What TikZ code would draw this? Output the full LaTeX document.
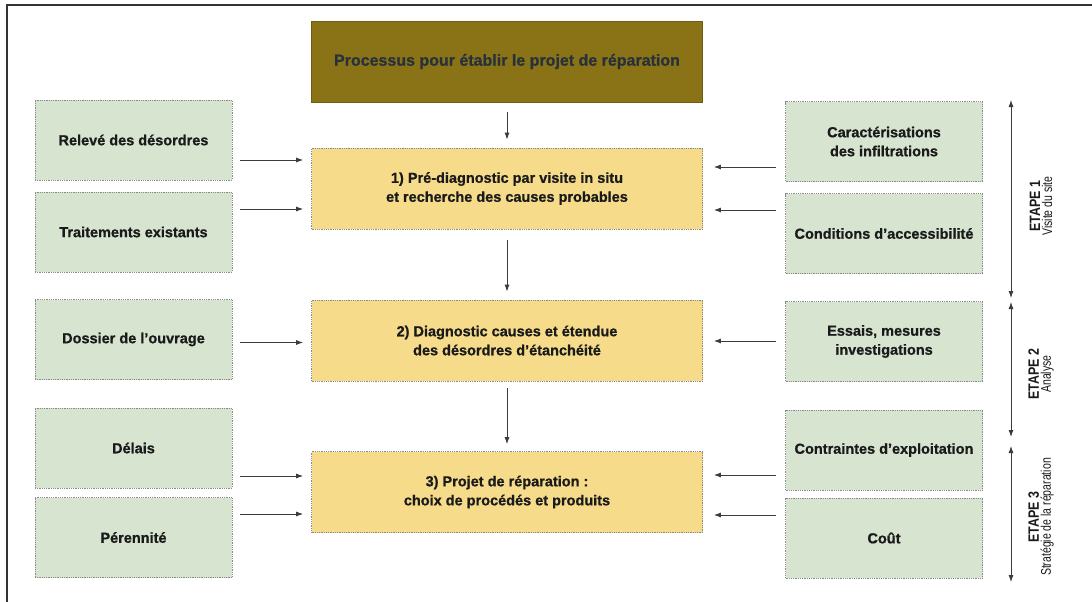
\documentclass[tikz,border=0pt]{standalone}
\usepackage{fontspec}
\setmainfont{Liberation Sans}[BoldFeatures={FakeBold=0.8}]
\newfontfamily\condbold[FakeStretch=0.83]{Liberation Sans Bold}
\newfontfamily\condreg[FakeStretch=0.75]{Liberation Sans}
\usetikzlibrary{arrows.meta,calc}
\definecolor{boxgreen}{HTML}{D6E4D0}
\definecolor{boxyellow}{HTML}{F6DC8A}
\definecolor{olive}{HTML}{8A7316}
\definecolor{titletext}{HTML}{27313B}
\definecolor{txt}{HTML}{1A1A1A}
\definecolor{dotgrey}{HTML}{8A8A8A}
\tikzset{
  base/.style={draw=dotgrey, densely dotted, line width=0.8pt, align=center,
    text=txt, font=\fontsize{14.5}{19}\selectfont\bfseries},
  sidebox/.style={base, fill=boxgreen, minimum width=197pt, minimum height=80pt},
  stepbox/.style={base, fill=boxyellow, minimum width=391pt, minimum height=81pt},
  titlebox/.style={draw=olive!80!black, fill=olive, minimum width=391pt, minimum height=81pt,
    text=titletext, font=\fontsize{16}{19}\selectfont\bfseries},
  arr/.style={draw=txt!85, line width=0.8pt, -{Latex[length=7pt,width=5pt]}},
  span/.style={draw=txt!85, line width=0.8pt, {Latex[length=7pt,width=5pt]}-{Latex[length=7pt,width=5pt]}},
  etape/.style={rotate=90, align=center, text=txt, inner sep=0pt}
}
\newcommand{\etapehead}[1]{{\condbold\fontsize{15}{15}\selectfont #1}}
\newcommand{\etapesub}[1]{{\condreg\fontsize{14}{14}\selectfont #1}}
\begin{document}
\begin{tikzpicture}[x=1pt,y=-1pt]
\useasboundingbox (0,0) rectangle (1092,602);
% frame
\draw[line width=1.4pt, draw=black!80] (7,602) -- (7,5) -- (1092,5);

% central column
\node[titlebox] (t) at (507,61.5) {Processus pour établir le projet de réparation};
\node[stepbox] (b1) at (507,188.5) {1) Pré-diagnostic par visite in situ\\et recherche des causes probables};
\node[stepbox] (b2) at (507,340.5) {2) Diagnostic causes et étendue\\des désordres d’étanchéité};
\node[stepbox] (b3) at (507,492) {3) Projet de réparation :\\choix de procédés et produits};

% left column
\node[sidebox] (rel) at (133.5,140) {Relevé des désordres};
\node[sidebox] (trt) at (133.5,232) {Traitements existants};
\node[sidebox] (dos) at (133.5,339.5) {Dossier de l’ouvrage};
\node[sidebox] (del) at (133.5,448) {Délais};
\node[sidebox] (per) at (133.5,537.5) {Pérennité};

% right column
\node[sidebox] (car) at (884,141.5) {Caractérisations\\des infiltrations};
\node[sidebox] (cond) at (884,233.5) {Conditions d’accessibilité};
\node[sidebox] (ess) at (884,341.5) {Essais, mesures\\investigations};
\node[sidebox] (ctr) at (884,450) {Contraintes d’exploitation};
\node[sidebox] (cout) at (884,538) {Coût};

% vertical arrows
\draw[arr, shorten <=10pt, shorten >=8pt] (t.south) -- (b1.north);
\draw[arr, shorten <=11pt, shorten >=8pt] (b1.south) -- (b2.north);
\draw[arr, shorten <=7pt, shorten >=7pt] (b2.south) -- (b3.north);

% left arrows
\draw[arr] ([xshift=8pt,yshift=-20pt]rel.east) -- ([xshift=-8pt,yshift=28.5pt]b1.west);
\draw[arr] ([xshift=8pt,yshift=23pt]trt.east) -- ([xshift=-8pt,yshift=-20.5pt]b1.west);
\draw[arr] ([xshift=8pt,yshift=-3pt]dos.east) -- ([xshift=-8pt,yshift=-2pt]b2.west);
\draw[arr] ([xshift=8pt,yshift=-28pt]del.east) -- ([xshift=-8pt,yshift=16pt]b3.west);
\draw[arr] ([xshift=8pt,yshift=23.5pt]per.east) -- ([xshift=-8pt,yshift=-22pt]b3.west);

% right arrows
\draw[arr] ([xshift=-9pt,yshift=-25.5pt]car.west) -- ([xshift=11pt,yshift=21.5pt]b1.east);
\draw[arr] ([xshift=-9pt,yshift=23.5pt]cond.west) -- ([xshift=11pt,yshift=-21.5pt]b1.east);
\draw[arr] ([xshift=-9pt,yshift=0.5pt]ess.west) -- ([xshift=11pt,yshift=-0.5pt]b2.east);
\draw[arr] ([xshift=-9pt,yshift=-25pt]ctr.west) -- ([xshift=11pt,yshift=17pt]b3.east);
\draw[arr] ([xshift=-9pt,yshift=23pt]cout.west) -- ([xshift=11pt,yshift=-23pt]b3.east);

% stage spans
\coordinate (e1t) at (1011,100);
\coordinate (e1b) at (1011,298);
\coordinate (e2t) at (1011,302);
\coordinate (e2b) at (1011,437);
\coordinate (e3t) at (1011,446);
\coordinate (e3b) at (1011,582);
\draw[span] (e1t) -- (e1b);
\draw[span] (e2t) -- (e2b);
\draw[span] (e3t) -- (e3b);

\node[etape] (l1) at (1041,206) {\etapehead{ETAPE 1}\\[0pt]\etapesub{Visite du site}};
\node[etape] (l2) at (1041,374) {\etapehead{ETAPE 2}\\[0pt]\etapesub{Analyse}};
\node[etape] (l3) at (1041,517) {\etapehead{ETAPE 3}\\[0pt]\etapesub{Stratégie de la réparation}};
\end{tikzpicture}
\end{document}
